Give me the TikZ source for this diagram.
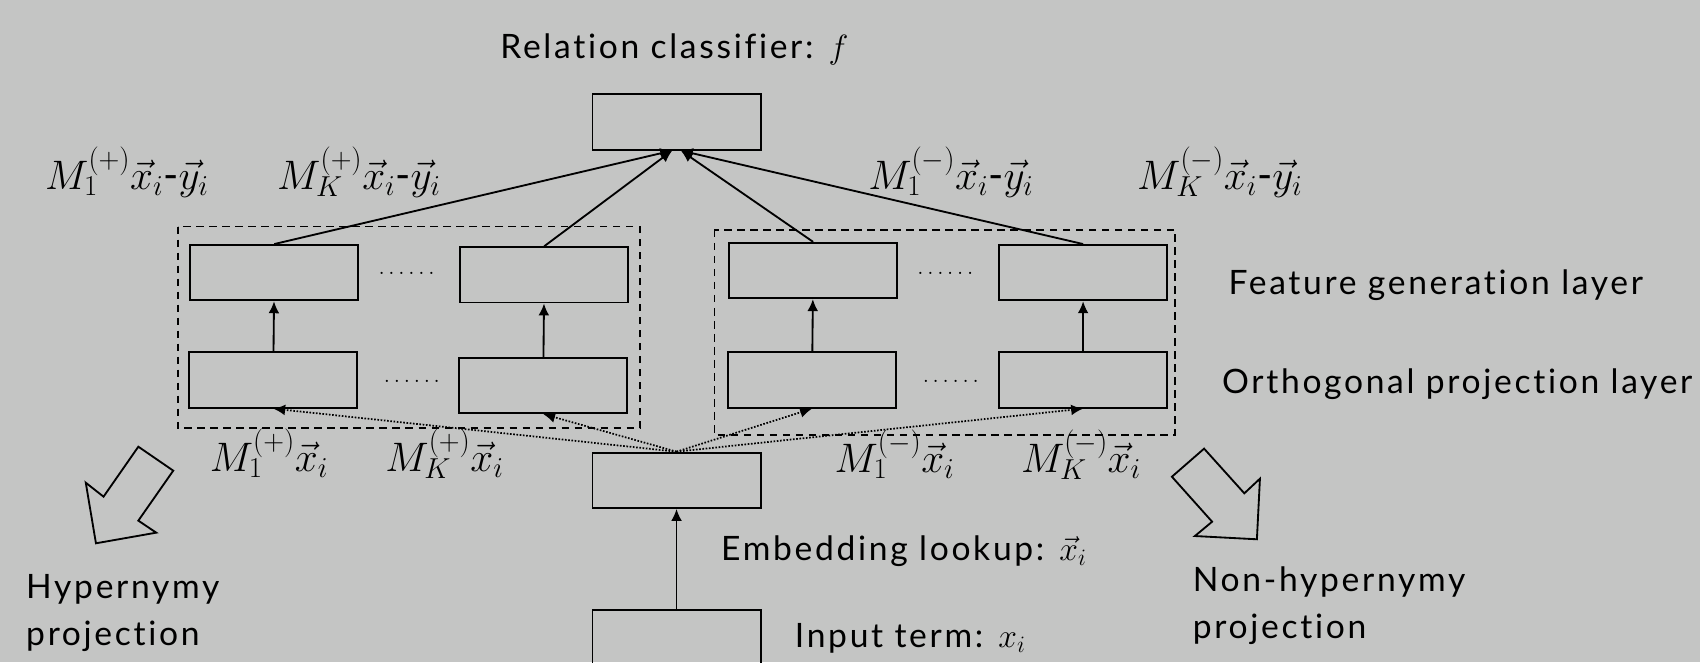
\RequirePackage{fix-cm}
\documentclass[tikz,border=0pt]{standalone}
\usepackage{fontspec}
\setmainfont{Lato}[LetterSpace=8,Ligatures=NoCommon]
\usetikzlibrary{arrows.meta}
\definecolor{bggray}{RGB}{196,197,196}
\newcommand{\bw}{155}
\newcommand{\bh}{51}
\newcommand{\feat}[2]{$M_{#1}^{(#2)}\vec{x}_i$-$\vec{y}_i$}
\newcommand{\proj}[2]{$M_{#1}^{(#2)}\vec{x}_i$}

\begin{document}
\begin{tikzpicture}[
      x=1pt, y=-1pt, %one unit is one pixel of the picture
      box/.style={draw, line width=1.8pt, minimum width=\bw pt, minimum height=\bh pt, inner sep=0pt},
      group/.style={line width=1.6pt, dash pattern=on 7pt off 5pt},
      arr/.style={line width=1.7pt, -{Latex[length=11pt,width=10pt]}},
      dotarr/.style={line width=1.6pt, dash pattern=on 1.5pt off 1.5pt, -{Latex[length=11pt,width=10pt]}},
      bigarrow/.style={line width=1.7pt, line join=miter},
      txt/.style={font=\fontsize{31}{43}\selectfont, inner sep=0pt},
      lab/.style={font=\fontsize{38}{40}\selectfont, inner sep=0pt, anchor=base},
      dots/.style={font=\fontsize{21}{24}\selectfont, inner sep=0pt}
    ]
    \useasboundingbox (0,0) rectangle (1568,611);
    \fill[bggray] (0,0) rectangle (1568,611);
    % classifier, embedding and input
    \node[box] (cls) at (624,112.5) {};
    \node[box] (emb) at (624,443) {};
    \node[box] (inp) at (624,588) {};
    \node[txt, anchor=base] (clslab) at (622,54) {Relation classifier: $f$};
    \node[txt, anchor=base west] (emblab) at (665,517) {Embedding lookup: $\vec{x}_i$};
    \node[txt, anchor=base west] (inplab) at (733,597) {Input term: $x_i$};
    % hypernymy side
    \draw[group] (164,209) rectangle (590,395);
    \node[box] (pa1) at (253,251.5) {};
    \node[box] (pak) at (502,253.5) {};
    \node[box] (pb1) at (252,350.5) {};
    \node[box] (pbk) at (501,355.5) {};
    \node[dots] (dotspa) at (375,252) {$\ldots\ldots$};
    \node[dots] (dotspb) at (380,352) {$\ldots\ldots$};
    % non-hypernymy side
    \draw[group] (659,212) rectangle (1084,401);
    \node[box] (na1) at (750,249.5) {};
    \node[box] (nak) at (999,251.5) {};
    \node[box] (nb1) at (749,350.5) {};
    \node[box] (nbk) at (999,350.5) {};
    \node[dots] (dotsna) at (872,252) {$\ldots\ldots$};
    \node[dots] (dotsnb) at (877,352) {$\ldots\ldots$};
    % layer names
    \node[txt, anchor=base west] (featlab) at (1133,272) {Feature generation layer};
    \node[txt, anchor=base west] (orthlab) at (1127,363) {Orthogonal projection layer};
    % feature labels
    \node[lab] (fpa1) at (117,175) {\feat{1}{+}};
    \node[lab] (fpak) at (331,175) {\feat{K}{+}};
    \node[lab] (fna1) at (877,175) {\feat{1}{-}};
    \node[lab] (fnak) at (1125,175) {\feat{K}{-}};
    % projection labels
    \node[lab] (ppa1) at (248,435) {\proj{1}{+}};
    \node[lab] (ppak) at (410,435) {\proj{K}{+}};
    \node[lab] (pna1) at (825,436) {\proj{1}{-}};
    \node[lab] (pnak) at (997,436) {\proj{K}{-}};
    % connections
    \draw[arr] (inp) -- (emb);
    \draw[dotarr] (emb.north) -- (pb1.south);
    \draw[dotarr] (emb.north) -- (pbk.south);
    \draw[dotarr] (emb.north) -- (nb1.south);
    \draw[dotarr] (emb.north) -- (nbk.south);
    \draw[arr] (pb1) -- (pa1);
    \draw[arr] (pbk) -- (pak);
    \draw[arr] (nb1) -- (na1);
    \draw[arr] (nbk) -- (nak);
    \draw[arr] (pa1.north) -- ([xshift=-4pt]cls.south);
    \draw[arr] (pak.north) -- ([xshift=-4pt]cls.south);
    \draw[arr] (na1.north) -- ([xshift=4pt]cls.south);
    \draw[arr] (nak.north) -- ([xshift=4pt]cls.south);
    % big arrows
    \draw[bigarrow] (127.6,412.0) -- (159.8,434.1) -- (127.6,480.2) -- (144.1,491.3) -- (88.5,501.1) -- (79.1,445.2) -- (95.5,458.1) -- cycle;
    \draw[bigarrow] (1110.6,413.8) -- (1147.7,455.0) -- (1162.1,441.5) -- (1159.3,497.4) -- (1102.1,494.4) -- (1118.0,481.2) -- (1080.9,439.7) -- cycle;
    \node[txt, anchor=base west, align=left] (hyplab) at (24,595) {Hypernymy\\projection};
    \node[txt, anchor=base west, align=left] (nonlab) at (1100,589) {Non-hypernymy\\projection};
\end{tikzpicture}
\end{document}
